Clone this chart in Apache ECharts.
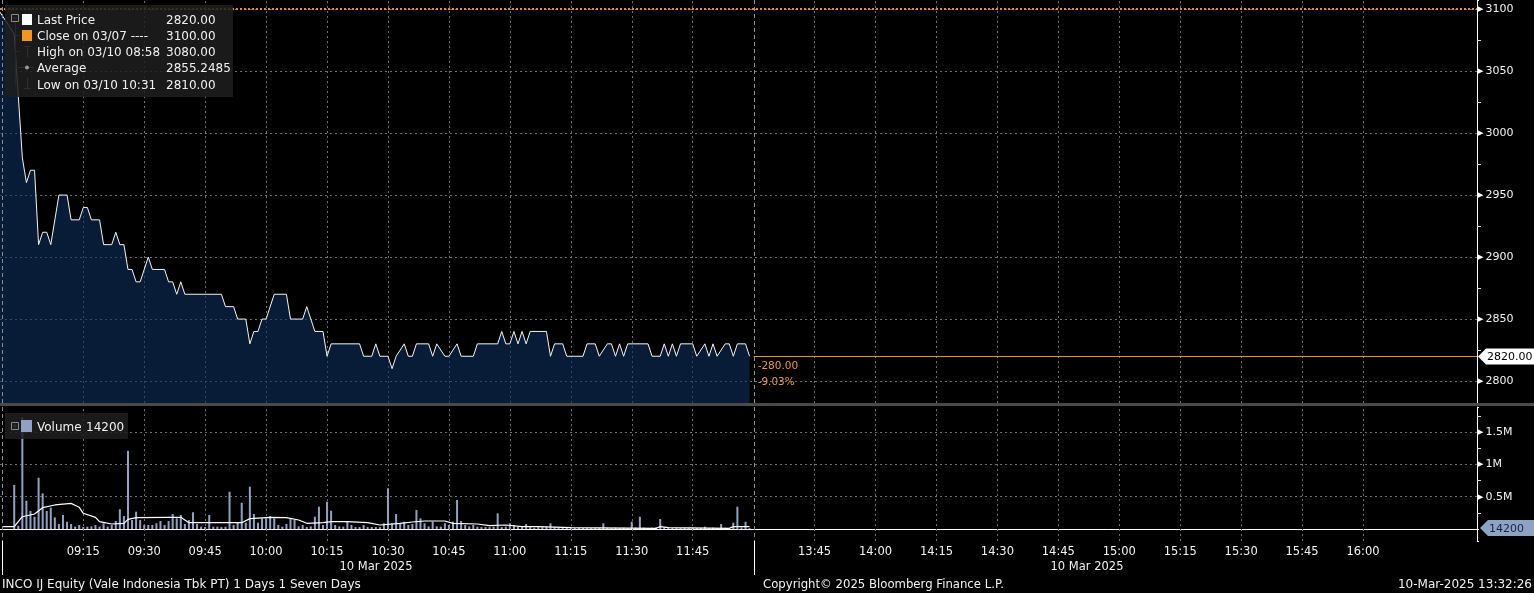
<!DOCTYPE html>
<html><head><meta charset="utf-8">
<script src="https://cdn.jsdelivr.net/npm/echarts@6/dist/echarts.min.js"></script>
<style>html,body{margin:0;padding:0;background:#000;overflow:hidden}#c{width:1534px;height:593px}</style>
</head><body><div id="c"></div>
<script>
// ---------------- data ----------------
const priceTimes = ['08:54','08:58','09:00','09:01','09:02','09:03','09:04','09:05','09:06','09:07',
  '09:09','09:11','09:12','09:14','09:15','09:16','09:17','09:19','09:20','09:22',
  '09:23','09:24','09:25','09:26','09:27','09:28','09:29','09:31','09:32','09:35',
  '09:36','09:37','09:38','09:39','09:40','09:49','09:50','09:52','09:53','09:55',
  '09:56','09:57','09:58','09:59','10:00','10:02','10:05','10:06','10:09','10:10',
  '10:12','10:14','10:15','10:16','10:23','10:24','10:26','10:27','10:28','10:30',
  '10:31','10:32','10:34','10:35','10:36','10:37','10:40','10:41','10:42','10:44',
  '10:45','10:47','10:48','10:51','10:52','10:57','10:58','10:59','11:00','11:01',
  '11:02','11:03','11:04','11:05','11:09','11:10','11:11','11:13','11:14','11:18',
  '11:19','11:21','11:22','11:24','11:25','11:26','11:27','11:28','11:29','11:34',
  '11:35','11:37','11:38','11:39','11:40','11:41','11:42','11:45','11:46','11:48',
  '11:49','11:50','11:51','11:53','11:54','11:55','11:56','11:58','11:59'];
const prices = [3100,3080,2980,2960,2970,2970,2910,2920,2920,2910,
  2950,2950,2930,2930,2940,2940,2930,2930,2910,2910,
  2920,2910,2910,2890,2890,2880,2880,2900,2890,2890,
  2880,2880,2870,2880,2870,2870,2860,2860,2850,2850,
  2830,2840,2840,2850,2850,2870,2870,2850,2850,2860,
  2840,2840,2820,2830,2830,2820,2820,2830,2820,2820,
  2810,2820,2830,2820,2820,2830,2830,2820,2830,2820,
  2820,2830,2820,2820,2830,2830,2840,2830,2830,2840,
  2830,2840,2830,2840,2840,2820,2830,2830,2820,2820,
  2830,2830,2820,2830,2830,2820,2830,2820,2830,2830,
  2820,2820,2830,2820,2830,2820,2830,2830,2820,2830,
  2820,2830,2820,2830,2830,2820,2830,2830,2820];

const volumeStart = '08:58'; // one bar per minute from here
const volumes = [
  681000,50000,1730000,438000,279000,190000,794000,552000,279000,330000,   // 08:58-09:07
  181000,77000,217000,113000,77000,36000,62000,30000,36000,40000,           // 09:08-09:17
  62000,36000,88000,36000,62000,124000,305000,201000,1210000,139000,        // 09:18-09:27
  268000,139000,62000,62000,62000,88000,124000,62000,124000,232000,         // 09:28-09:37
  165000,217000,77000,139000,259000,77000,36000,30000,217000,36000,         // 09:38-09:47
  36000,30000,36000,577000,62000,98000,407000,98000,655000,232000,          // 09:48-09:57
  98000,165000,165000,201000,165000,62000,36000,77000,165000,139000,        // 09:58-10:07
  40000,62000,30000,40000,190000,345000,62000,423000,283000,62000,          // 10:08-10:17
  40000,36000,113000,62000,30000,30000,62000,30000,30000,30000,             // 10:18-10:27
  30000,88000,630000,88000,232000,77000,113000,62000,77000,294000,          // 10:28-10:37
  165000,88000,40000,113000,40000,36000,88000,62000,113000,449000,          // 10:38-10:47
  124000,62000,40000,62000,36000,30000,30000,30000,36000,243000,            // 10:48-10:57
  30000,36000,88000,62000,30000,30000,77000,30000,20000,30000,              // 10:58-11:07
  30000,36000,88000,30000,20000,20000,20000,20000,15000,20000,              // 11:08-11:17
  15000,20000,15000,20000,15000,88000,20000,15000,20000,15000,              // 11:18-11:27
  20000,15000,113000,20000,190000,20000,15000,20000,25000,155000,           // 11:28-11:37
  30000,20000,15000,20000,15000,20000,15000,20000,15000,20000,              // 11:38-11:47
  36000,15000,20000,15000,77000,20000,15000,98000,345000,25000,             // 11:48-11:57
  113000,14200];                                                            // 11:58-11:59

const maTimes = ['08:55','08:58','09:00','09:03','09:05','09:08','09:12','09:14','09:15','09:18',
  '09:19','09:22','09:25','09:26','09:28','09:36','09:39','09:41','09:54','09:56',
  '10:01','10:05','10:08','10:10','10:14','10:16','10:20','10:25','10:28','10:33',
  '10:36','10:39','10:44','10:46','10:52','10:55','10:59','11:03','11:07','11:15',
  '11:36','11:37','11:39','11:54','11:55','11:59'];
const maValues = [36000,36000,190000,232000,330000,372000,397000,336000,243000,181000,
  113000,77000,88000,150000,175000,181000,181000,98000,98000,160000,
  181000,175000,139000,88000,98000,113000,113000,98000,62000,88000,
  108000,124000,124000,88000,77000,51000,62000,36000,36000,20000,
  11000,36000,20000,11000,36000,36000];

const timeTicks = ['09:15','09:30','09:45','10:00','10:15','10:30','10:45','11:00','11:15','11:30','11:45',
  '13:45','14:00','14:15','14:30','14:45','15:00','15:15','15:30','15:45','16:00'];
const sessionStarts = ['08:55','13:30'];
const lunch = ['12:00','13:30'];
const prevClose = 3100, lastPrice = 2820, lastVolume = 14200;
const netChange = '-280.00', pctChange = '-9.03%';
const legendRows = [
  ['Last Price','2820.00'],
  ['Close on 03/07 ----','3100.00'],
  ['High on 03/10 08:58','3080.00'],
  ['Average','2855.2485'],
  ['Low on 03/10 10:31','2810.00']
];

// ---------------- helpers ----------------
function clock(t){ const a=t.split(':').map(Number); return a[0]*60+a[1]; }
const LUNCH_GAP = clock(lunch[1]) - clock(lunch[0]);
function toAxis(t){ let v=clock(t); if (v>=clock(lunch[1])) v-=LUNCH_GAP; return v; }
function fromAxis(v){ if (v>clock(lunch[0])) v+=LUNCH_GAP; const h=Math.floor(v/60), m=Math.round(v-h*60); return String(h).padStart(2,'0')+':'+String(m).padStart(2,'0'); }
const tickSet = new Set(timeTicks.map(toAxis));
const X_MIN = 534.5, X_MAX = 898.05;

const priceData = priceTimes.map((t,i)=>[toAxis(t), prices[i]]);
const volData = volumes.map((v,i)=>[toAxis(volumeStart)+i, v]);
const maData = maTimes.map((t,i)=>[toAxis(t), maValues[i]]);
const vGrid = timeTicks.map(t=>({xAxis: toAxis(t)}));

const FONT = 'DejaVu Sans';
const gridDash = {color:'#6f6f6f', type:[2,3], width:1};
const ORANGE = '#ef9a3c';

function yLabel(txt){ return '{t|\u25B6}{v|'+txt+'}'; }
const yRich = {t:{fontSize:7,color:'#ffffff',padding:[0,2,0,0],fontFamily:FONT}, v:{fontSize:11,color:'#f2f2f2',fontFamily:FONT}};

const option = {
  backgroundColor:'#000',
  animation:false,
  textStyle:{fontFamily:FONT},
  grid:[
    {left:0,right:57,top:0,height:403},
    {left:0,right:57,top:407,height:134}
  ],
  xAxis:[
    {type:'value',gridIndex:0,min:X_MIN,max:X_MAX,minInterval:15,maxInterval:15,
     axisLine:{show:false},axisTick:{show:false},axisLabel:{show:false},splitLine:{show:false}},
    {type:'value',gridIndex:1,min:X_MIN,max:X_MAX,minInterval:15,maxInterval:15,
     axisLine:{show:true,lineStyle:{color:'#ffffff',width:1}},axisTick:{show:false},
     splitLine:{show:false},
     axisLabel:{show:true,color:'#f2f2f2',fontSize:11.5,fontFamily:FONT,margin:5,showMinLabel:false,showMaxLabel:false,
       formatter:v=> tickSet.has(Math.round(v)) && Math.abs(v-Math.round(v))<1e-6 ? fromAxis(v) : ''}}
  ],
  yAxis:[
    {type:'value',gridIndex:0,position:'right',min:2782.3,max:3107.3,minInterval:50,maxInterval:50,
     axisLine:{show:true,lineStyle:{color:'#ffffff',width:1}},
     axisTick:{show:true,length:2,lineStyle:{color:'#fff'}},
     minorTick:{show:true,splitNumber:2,length:4,lineStyle:{color:'#ddd'}},
     axisLabel:{margin:1,showMinLabel:false,showMaxLabel:false,formatter:v=>yLabel(String(Math.round(v))),rich:yRich},
     splitLine:{show:true,showMinLine:false,showMaxLine:false,lineStyle:gridDash}},
    {type:'value',gridIndex:1,position:'right',min:-185800,max:1888600,minInterval:500000,maxInterval:500000,
     axisLine:{show:true,lineStyle:{color:'#ffffff',width:1}},
     axisTick:{show:true,length:2,lineStyle:{color:'#fff'}},
     minorTick:{show:true,splitNumber:2,length:4,lineStyle:{color:'#ddd'}},
     axisLabel:{margin:1,showMinLabel:false,showMaxLabel:false,
       formatter:v=> v<=0 ? '' : yLabel((v/1e6)+'M'),rich:yRich},
     splitLine:{show:true,showMinLine:false,showMaxLine:false,lineStyle:gridDash}}
  ],
  series:[
    {type:'line',xAxisIndex:0,yAxisIndex:0,data:priceData,symbol:'none',clip:true,
     lineStyle:{color:'#f4f4f4',width:1},
     areaStyle:{color:'rgba(14,47,92,0.86)',origin:'start'},
     z:3,
     markLine:{silent:true,symbol:'none',label:{show:false},z:1,
       data: vGrid.map(d=>Object.assign({lineStyle:gridDash},d))}},
    {type:'line',xAxisIndex:0,yAxisIndex:0,data:[],symbol:'none',
     markLine:{silent:true,symbol:'none',label:{show:false},z:6,
       data:[
         {yAxis:prevClose,lineStyle:{color:'#e88b2e',type:[2,2],width:2}},
         [{coord:[toAxis(lunch[0]),lastPrice],lineStyle:{color:'#e88b2e',type:'solid',width:1}},{coord:[X_MAX,lastPrice]}]
       ]}},
    {type:'bar',xAxisIndex:1,yAxisIndex:1,data:volData,barWidth:2,
     itemStyle:{color:'#8fa2c6'},z:3,
     markLine:{silent:true,symbol:'none',label:{show:false},z:1,
       data: vGrid.map(d=>Object.assign({lineStyle:gridDash},d))}},
    {type:'line',xAxisIndex:1,yAxisIndex:1,data:maData,symbol:'none',
     lineStyle:{color:'#ffffff',width:1.2},z:4}
  ]
};

const chart = echarts.init(document.getElementById('c'));
chart.setOption(option);

// ---------------- overlays positioned from the chart's own scales ----------------
function txt(text,x,y,fill,align,size){ return {type:'text',silent:true,z:100,style:{text:text,x:x,y:y,fill:fill||'#f0f0f0',font:(size||12)+'px "'+FONT+'"',align:align||'left',verticalAlign:'middle',textAlign:align||'left',textVerticalAlign:'middle'}}; }
function ln(x1,y1,x2,y2,stroke,dash,w){ return {type:'line',silent:true,z:90,shape:{x1:x1,y1:y1,x2:x2,y2:y2},style:{stroke:stroke,lineWidth:w||1,lineDash:dash||null}}; }

const axisX = chart.convertToPixel({xAxisIndex:1}, X_MAX);
const yLast = chart.convertToPixel({yAxisIndex:0}, lastPrice);
const yVol = chart.convertToPixel({yAxisIndex:1}, lastVolume);
const xAxisY = chart.convertToPixel({yAxisIndex:1}, -185800);
const xLunch = chart.convertToPixel({xAxisIndex:1}, toAxis(lunch[0]));
const g = [];

// separator between panes
g.push({type:'rect',silent:true,z:95,shape:{x:0,y:403,width:1534,height:3},style:{fill:'#4a4a4a'}});
g.push(ln(760,403.5,773,403.5,'#9a9a9a'));g.push(ln(760,405.5,773,405.5,'#9a9a9a'));

// session boundaries
sessionStarts.forEach(t=>{
  const x = Math.round(chart.convertToPixel({xAxisIndex:1}, toAxis(t)))+0.5;
  g.push(ln(x,0,x,403,'#8c8c8c',[4,3]));
  g.push(ln(x,407,x,xAxisY,'#8c8c8c',[4,3]));
  g.push(ln(x,xAxisY,x,575,'#ffffff'));
});

// last price tag
const yl = Math.round(yLast)+0.5;
g.push({type:'polygon',silent:true,z:100,shape:{points:[[axisX+1,yl],[axisX+9,yl-8],[1534,yl-8],[1534,yl+8],[axisX+9,yl+8]]},style:{fill:'#ffffff'}});
g.push(txt(lastPrice.toFixed(2),axisX+10,yl+1,'#000000','left',11));
g.push(txt(netChange,xLunch+4,yl+10,ORANGE,'left',10.5));
g.push(txt(pctChange,xLunch+4,yl+26,ORANGE,'left',10.5));

// last volume tag
const yv = Math.round(yVol);
g.push({type:'polygon',silent:true,z:100,shape:{points:[[axisX+3,yv],[axisX+11,yv-8],[1534,yv-8],[1534,yv+8],[axisX+11,yv+8]]},style:{fill:'#8fa2c6'}});
g.push(txt(String(lastVolume),axisX+12,yv+1,'#16243f','left',11));

// date labels and footer
g.push(txt('10 Mar 2025',376,567,'#f0f0f0','center',11.5));
g.push(txt('10 Mar 2025',1087,567,'#f0f0f0','center',11.5));
g.push(txt('INCO IJ Equity (Vale Indonesia Tbk PT) 1 Days 1 Seven Days',2,585,'#f0f0f0'));
g.push(txt('Copyright\u00A9 2025 Bloomberg Finance L.P.',763,585,'#f0f0f0','left',11.7));
g.push(txt('10-Mar-2025 13:32:26',1532,585,'#f0f0f0','right'));

// price legend
g.push({type:'rect',silent:true,z:98,shape:{x:5,y:5,width:228,height:92},style:{fill:'rgba(30,30,30,0.86)'}});
g.push({type:'rect',silent:true,z:99,shape:{x:11.5,y:14.5,width:7,height:7},style:{fill:'none',stroke:'#8a8a8a'}});
g.push(ln(13,18,17,18,'#aaaaaa'));
g.push(ln(15.5,22,15.5,86,'#5a5a5a'));
const rowY=[19.5,35.5,51.5,67.5,84];
rowY.slice(1).forEach(y=>g.push(ln(15.5,y,20,y,'#5a5a5a')));
g.push({type:'rect',silent:true,z:99,shape:{x:22,y:14,width:10,height:11},style:{fill:'#ffffff'}});
g.push({type:'rect',silent:true,z:99,shape:{x:22,y:30,width:10,height:11},style:{fill:'#f7941d'}});
g.push(ln(27.5,46,27.5,57,'#9a9a9a'));g.push(ln(24,46.5,31,46.5,'#9a9a9a'));
g.push(ln(20,67.5,34,67.5,'#9a9a9a'));g.push({type:'circle',silent:true,z:99,shape:{cx:27,cy:67.5,r:2},style:{fill:'#9a9a9a'}});
g.push(ln(27.5,78,27.5,89,'#9a9a9a'));g.push(ln(24,88.5,31,88.5,'#9a9a9a'));
legendRows.forEach((r,i)=>{ g.push(txt(r[0],37,rowY[i]+1.5)); g.push(txt(r[1],166,rowY[i]+1.5)); });

// volume legend
g.push({type:'rect',silent:true,z:98,shape:{x:5,y:413,width:123,height:26},style:{fill:'rgba(30,30,30,0.86)'}});
g.push({type:'rect',silent:true,z:99,shape:{x:11.5,y:422.5,width:7,height:7},style:{fill:'none',stroke:'#8a8a8a'}});
g.push(ln(13,426,17,426,'#aaaaaa'));g.push(ln(15,424,15,428,'#aaaaaa'));
g.push({type:'rect',silent:true,z:99,shape:{x:21,y:420,width:11,height:12},style:{fill:'#8fa2c6'}});
g.push(txt('Volume',37,428));
g.push(txt(String(lastVolume),86,428));

chart.setOption({graphic:g});
</script></body></html>
